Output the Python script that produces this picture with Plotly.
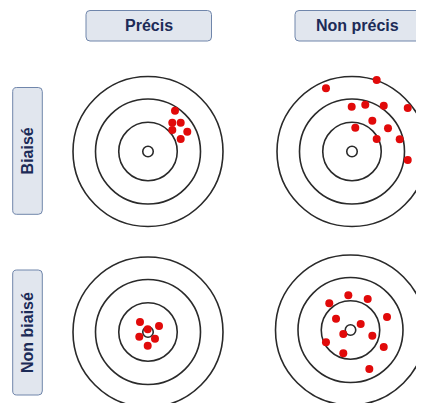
import plotly.graph_objects as go

# page has an 8px body margin: figure drawn from screen (8,8)
OFF = 8
W, H = 424 - OFF, 403 - OFF
PX_PER_UNIT = 7.5  # screen pixels per target unit

# ---------------- data ----------------
col_labels = ["Précis", "Non précis"]
row_labels = ["Biaisé", "Non biaisé"]
ring_radii = [10.0, 7.0, 3.9, 0.7]

biased_precise_x = [3.6, 3.24, 4.36, 3.24, 5.24, 4.36]
biased_precise_y = [5.44, 3.84, 3.84, 2.87, 2.64, 1.67]

biased_imprecise_x = [-3.47, 3.29, -0.04, 1.77, 4.23, 7.43, 2.71, 0.44, 4.8, 3.29, 6.36, 7.43, 9.95]
biased_imprecise_y = [8.43, 9.53, 5.97, 6.24, 6.11, 5.8, 4.11, 3.17, 3.09, 1.67, 1.63, -1.13, 3.31]

unbiased_precise_x = [-1.07, -0.04, 1.47, -1.16, 0.93, -0.04]
unbiased_precise_y = [1.33, 0.36, 0.8, -0.63, -0.89, -1.83]

unbiased_imprecise_x = [-2.83, -0.29, 2.29, -1.93, 4.87, 1.36, -0.96, 2.91, -3.27, 4.43, -0.96, 2.51]
unbiased_imprecise_y = [3.56, 4.63, 4.13, 1.51, 1.73, 0.8, -0.53, -0.76, -1.64, -2.27, -3.11, -5.2]

panels = [
    (biased_precise_x, biased_precise_y),
    (biased_imprecise_x, biased_imprecise_y),
    (unbiased_precise_x, unbiased_precise_y),
    (unbiased_imprecise_x, unbiased_imprecise_y),
]

# ---------------- layout geometry (screen pixels) ----------------
centers = [(148, 151.5), (352, 151.5), (148, 332), (350.5, 330)]
HALF = 88

DOT = "#e10a0a"
RING = "#2a2a2a"
BOX_FILL = "#e1e6ee"
BOX_LINE = "#7086ab"
TXT = "#1c2b57"


def PX(v):
    return (v - OFF) / W


def PY(v):
    return 1 - (v - OFF) / H


fig = go.Figure()
layout_axes = {}
shapes = []

for i, ((cx, cy), (xs, ys)) in enumerate(zip(centers, panels), start=1):
    x0 = max(OFF, cx - HALF); x1 = min(424, cx + HALF)
    y0 = max(OFF, cy - HALF); y1 = min(403, cy + HALF)
    if i <= 2:
        y1 = min(y1, 241)
    else:
        y0 = max(y0, 243)
    xr = [(x0 - cx) / PX_PER_UNIT, (x1 - cx) / PX_PER_UNIT]
    yr = [(cy - y1) / PX_PER_UNIT, (cy - y0) / PX_PER_UNIT]
    sfx = "" if i == 1 else str(i)
    layout_axes["xaxis" + sfx] = dict(domain=[PX(x0), PX(x1)], range=xr, visible=False,
                                      anchor="y" + sfx, fixedrange=True)
    layout_axes["yaxis" + sfx] = dict(domain=[PY(y1), PY(y0)], range=yr, visible=False,
                                      anchor="x" + sfx, fixedrange=True)
    for r in ring_radii:
        shapes.append(dict(type="circle", xref="x" + sfx, yref="y" + sfx,
                           x0=-r, x1=r, y0=-r, y1=r,
                           line=dict(color=RING, width=1.6), layer="below"))
    fig.add_trace(go.Scatter(x=xs, y=ys, mode="markers", xaxis="x" + sfx, yaxis="y" + sfx,
                             marker=dict(size=8, color=DOT, line=dict(width=0)),
                             showlegend=False, hoverinfo="skip"))


def rrect(px0, py0, px1, py1, r=4):
    p = (f"M {PX(px0 + r)},{PY(py0)} L {PX(px1 - r)},{PY(py0)} "
         f"Q {PX(px1)},{PY(py0)} {PX(px1)},{PY(py0 + r)} "
         f"L {PX(px1)},{PY(py1 - r)} Q {PX(px1)},{PY(py1)} {PX(px1 - r)},{PY(py1)} "
         f"L {PX(px0 + r)},{PY(py1)} Q {PX(px0)},{PY(py1)} {PX(px0)},{PY(py1 - r)} "
         f"L {PX(px0)},{PY(py0 + r)} Q {PX(px0)},{PY(py0)} {PX(px0 + r)},{PY(py0)} Z")
    return dict(type="path", xref="paper", yref="paper", path=p,
                fillcolor=BOX_FILL, line=dict(color=BOX_LINE, width=1), layer="below")


header_boxes = [(86, 10.5, 211.5, 41), (295, 10.5, 420.5, 41)]
side_boxes = [(12.7, 87.5, 42.3, 214.3), (12.7, 270, 42.3, 395)]

annotations = []
for (bx0, by0, bx1, by1), label in zip(header_boxes, col_labels):
    shapes.append(rrect(bx0, by0, bx1, by1))
    annotations.append(dict(x=PX((bx0 + bx1) / 2), y=PY((by0 + by1) / 2),
                            xref="paper", yref="paper", text=f"<b>{label}</b>",
                            showarrow=False, xanchor="center", yanchor="middle",
                            font=dict(family="Liberation Sans, Arial", size=16, color=TXT)))
for (bx0, by0, bx1, by1), label in zip(side_boxes, row_labels):
    shapes.append(rrect(bx0, by0, bx1, by1))
    annotations.append(dict(x=PX((bx0 + bx1) / 2), y=PY((by0 + by1) / 2),
                            xref="paper", yref="paper", text=f"<b>{label}</b>",
                            showarrow=False, xanchor="center", yanchor="middle", textangle=-90,
                            font=dict(family="Liberation Sans, Arial", size=16, color=TXT)))

fig.update_layout(
    width=W, height=H, autosize=False,
    margin=dict(l=0, r=0, t=0, b=0),
    paper_bgcolor="white", plot_bgcolor="rgba(0,0,0,0)",
    shapes=shapes, annotations=annotations, showlegend=False,
    **layout_axes,
)

fig.write_html("out.html", config={"displayModeBar": False})
